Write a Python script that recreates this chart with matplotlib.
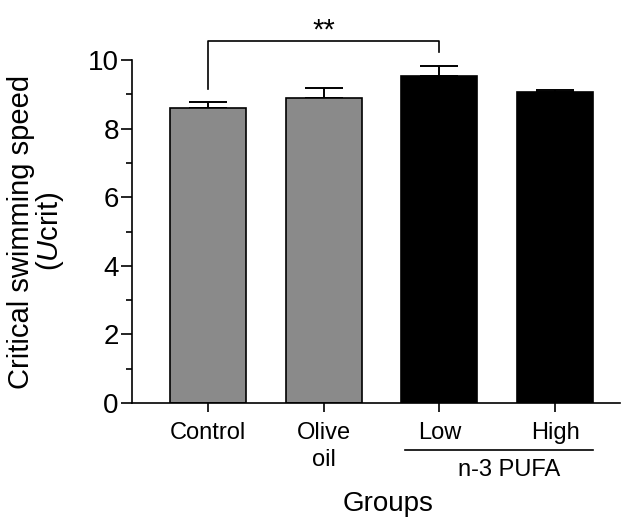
import numpy as np
import matplotlib
matplotlib.use('Agg')
import matplotlib.pyplot as plt
from matplotlib.transforms import blended_transform_factory
from matplotlib.lines import Line2D

plt.rcParams['font.family'] = ['Liberation Sans', 'DejaVu Sans']
plt.rcParams['mathtext.fontset'] = 'custom'
plt.rcParams['mathtext.rm'] = 'Liberation Sans'
plt.rcParams['mathtext.it'] = 'Liberation Sans:italic'

# data
groups = ['Control', 'Olive\noil', 'Low', 'High']
means = [8.6, 8.88, 9.54, 9.08]
errs = [0.17, 0.29, 0.28, 0.05]
colors = ['#8a8a8a', '#8a8a8a', 'black', 'black']

fig = plt.figure(figsize=(6.28, 5.2), dpi=100)
ax = fig.add_axes([0.2102, 0.225, 0.777, 0.6596])

x = np.arange(len(groups))
ax.bar(x, means, width=0.655, color=colors, edgecolor='black', linewidth=1.2, zorder=2)
ax.errorbar(x, means, yerr=[np.zeros(len(errs)), errs], fmt='none', ecolor='black',
            elinewidth=1.4, capsize=14, capthick=1.4, zorder=1)

ax.set_xlim(-0.655, 3.56)
ax.set_ylim(0, 10)
ax.set_yticks([0, 2, 4, 6, 8, 10])
ax.set_yticks([1, 3, 5, 7, 9], minor=True)
ax.set_xticks(x)
ax.set_xticklabels(groups, fontsize=17, va='top', linespacing=1.3)
ax.tick_params(axis='y', labelsize=20, length=8, width=1.2, pad=1.5)
ax.tick_params(axis='y', which='minor', length=4.5, width=1.2)
ax.tick_params(axis='x', length=6.5, width=1.2, pad=7)
for s in ['top', 'right']:
    ax.spines[s].set_visible(False)
for s in ['left', 'bottom']:
    ax.spines[s].set_linewidth(1.2)

ax.set_ylabel('Critical swimming speed\n($\\mathit{U}$crit)', fontsize=21, labelpad=16, linespacing=0.95)

# significance bracket Control vs Low
ax.plot([0, 0, 2, 2], [9.15, 10.56, 10.56, 10.23], color='black', lw=1.2, clip_on=False)
ax.text(1, 10.62, '**', ha='center', va='baseline', fontsize=21)

# n-3 PUFA grouping line
tr = blended_transform_factory(ax.transData, fig.transFigure)
fig.add_artist(Line2D([1.7, 3.33], [0.1346, 0.1346], color='black', lw=1.2, transform=tr))
fig.text(2.6, 0.097, 'n-3 PUFA', transform=tr, ha='center', va='center', fontsize=17)

fig.text(0.618, 0.017, 'Groups', ha='center', va='baseline', fontsize=20)

fig.savefig('out.png', dpi=100)
